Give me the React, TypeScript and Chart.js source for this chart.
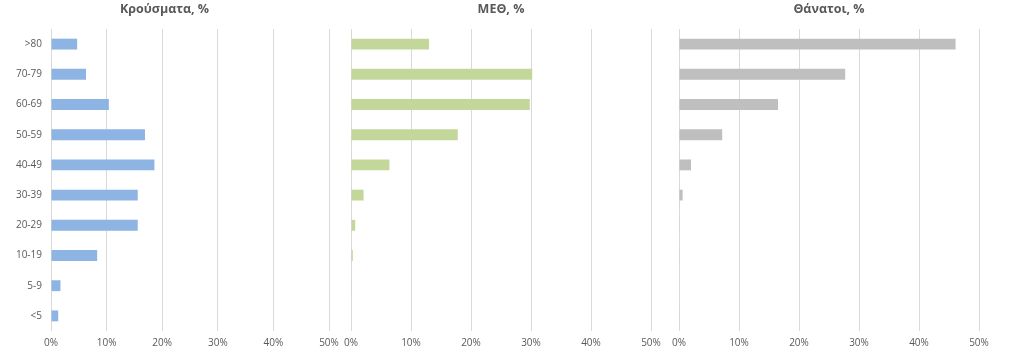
import React, { useEffect, useRef } from "react";
import { Chart, registerables } from "chart.js";

Chart.register(...registerables);

const categories = [">80", "70-79", "60-69", "50-59", "40-49", "30-39", "20-29", "10-19", "5-9", "<5"];
const casesPct = [4.7, 6.3, 10.4, 16.9, 18.6, 15.6, 15.6, 8.3, 1.7, 1.3];
const icuPct = [13.0, 30.2, 29.8, 17.8, 6.4, 2.1, 0.7, 0.3, 0.1, 0];
const deathsPct = [46.1, 27.7, 16.5, 7.2, 2.0, 0.6, 0.1, 0.1, 0, 0.1];
const xTicks = [0, 10, 20, 30, 40, 50];
const titles = ["Κρούσματα, %", "ΜΕΘ, %", "Θάνατοι, %"];

const FONT = "'Open Sans', 'DejaVu Sans', sans-serif";
const TEXT = "#595959";
const GRID = "#d9d9d9";

type PanelSpec = {
  title: string;
  values: number[];
  color: string;
  left: number;
  width: number;
  padLeft: number;
  padRight: number;
  showY: boolean;
};

function Panel({ spec }: { spec: PanelSpec }) {
  const ref = useRef<HTMLCanvasElement | null>(null);
  useEffect(() => {
    if (!ref.current) return;
    const chart = new Chart(ref.current, {
      type: "bar",
      data: {
        labels: categories,
        datasets: [
          {
            data: spec.values,
            backgroundColor: spec.color,
            borderWidth: 0,
            barPercentage: 0.36,
            categoryPercentage: 1,
          },
        ],
      },
      options: {
        indexAxis: "y",
        responsive: false,
        animation: false,
        layout: { padding: { left: spec.padLeft, right: spec.padRight, top: 0, bottom: 0 }, autoPadding: false },
        plugins: {
          legend: { display: false },
          tooltip: { enabled: false },
          title: {
            display: true,
            text: spec.title,
            color: TEXT,
            font: { family: FONT, size: 12.5, weight: "bold", lineHeight: 1.2 },
            padding: { top: 2, bottom: 12 },
          },
        },
        scales: {
          x: {
            min: xTicks[0],
            max: xTicks[xTicks.length - 1],
            afterBuildTicks: (scale: any) => {
              scale.ticks = xTicks.map((v) => ({ value: v }));
            },
            afterFit: (scale: any) => {
              scale.height = 28;
            },
            ticks: {
              color: TEXT,
              font: { family: FONT, size: 10 },
              padding: 6,
              maxRotation: 0,
              callback: (v: any) => `${v}%`,
            },
            grid: { color: GRID, lineWidth: 1, drawTicks: false },
            border: { display: false },
          },
          y: {
            display: spec.showY,
            afterFit: (scale: any) => {
              scale.width = spec.showY ? 51 : 0;
            },
            ticks: {
              color: TEXT,
              font: { family: FONT, size: 10 },
              padding: 9,
            },
            grid: { display: false, drawTicks: false },
            border: { display: false },
          },
        },
      },
    } as any);
    return () => chart.destroy();
  }, [spec]);
  return (
    <canvas
      ref={ref}
      width={spec.width}
      height={359}
      style={{ position: "absolute", left: spec.left, top: 0, width: spec.width, height: 359 }}
    />
  );
}

const panels: PanelSpec[] = [
  { title: titles[0], values: casesPct, color: "#8db4e2", left: 0, width: 362, padLeft: 0, padRight: 33, showY: true },
  { title: titles[1], values: icuPct, color: "#c4d79b", left: 331, width: 344, padLeft: 20, padRight: 24, showY: false },
  { title: titles[2], values: deathsPct, color: "#bfbfbf", left: 659, width: 341, padLeft: 20, padRight: 21, showY: false },
];

export default function App() {
  return (
    <div style={{ position: "absolute", left: 0, top: 0, width: 1009, height: 359, background: "#fff", overflow: "hidden" }}>
      {panels.map((p, i) => (
        <Panel key={i} spec={p} />
      ))}
    </div>
  );
}
